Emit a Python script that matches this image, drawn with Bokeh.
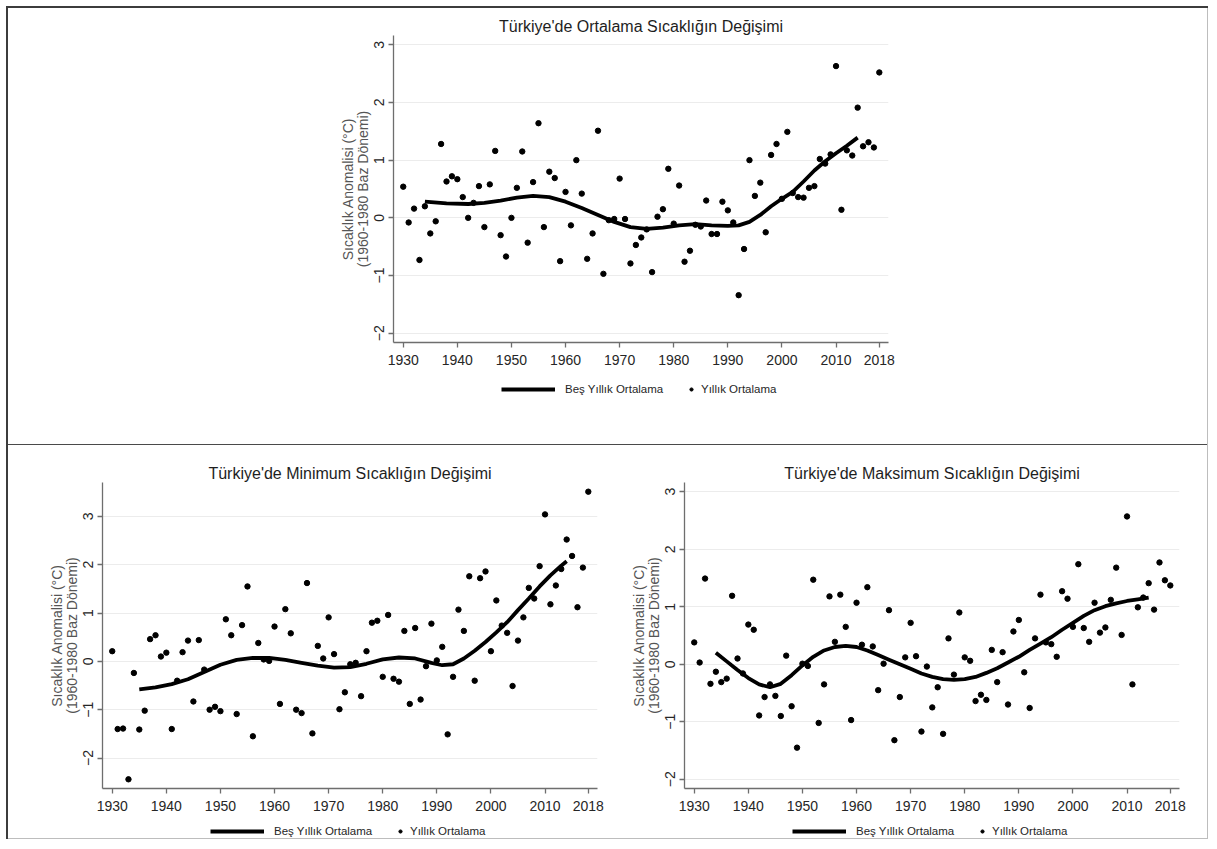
from bokeh.plotting import figure
from bokeh.models import Legend, LegendItem, FixedTicker, Range1d, Spacer
from bokeh.layouts import column, row
from bokeh.embed import file_html
from bokeh.resources import INLINE

FONT = "Liberation Sans"

years = list(range(1930, 2019))

ortalama = [0.54, -0.08, 0.16, -0.73, 0.20, -0.27, -0.06, 1.28, 0.63, 0.72,
            0.67, 0.36, 0.00, 0.26, 0.55, -0.16, 0.58, 1.16, -0.30, -0.67,
            0.00, 0.52, 1.15, -0.43, 0.62, 1.64, -0.16, 0.80, 0.69, -0.75,
            0.45, -0.13, 1.00, 0.42, -0.71, -0.27, 1.51, -0.97, -0.04, -0.02,
            0.68, -0.02, -0.79, -0.47, -0.34, -0.20, -0.94, 0.02, 0.15, 0.85,
            -0.10, 0.56, -0.76, -0.57, -0.12, -0.15, 0.30, -0.28, -0.28, 0.28,
            0.13, -0.08, -1.34, -0.54, 1.00, 0.38, 0.61, -0.25, 1.09, 1.28,
            0.33, 1.49, 0.43, 0.36, 0.35, 0.52, 0.55, 1.02, 0.94, 1.10,
            2.63, 0.14, 1.17, 1.08, 1.91, 1.24, 1.31, 1.22, 2.52]

minimum = [0.21, -1.40, -1.39, -2.44, -0.24, -1.41, -1.02, 0.46, 0.54, 0.10,
           0.18, -1.40, -0.40, 0.19, 0.43, -0.83, 0.44, -0.17, -1.00, -0.94,
           -1.03, 0.87, 0.54, -1.09, 0.75, 1.55, -1.55, 0.38, 0.04, 0.01,
           0.72, -0.88, 1.08, 0.58, -1.00, -1.07, 1.62, -1.49, 0.32, 0.06,
           0.91, 0.15, -0.99, -0.64, -0.06, -0.03, -0.72, 0.21, 0.80, 0.84,
           -0.32, 0.96, -0.36, -0.42, 0.63, -0.88, 0.69, -0.79, -0.10, 0.78,
           0.02, 0.30, -1.51, -0.32, 1.07, 0.63, 1.76, -0.40, 1.72, 1.86,
           0.21, 1.26, 0.74, 0.59, -0.51, 0.43, 0.91, 1.52, 1.30, 1.97,
           3.04, 1.18, 1.57, 1.91, 2.52, 2.18, 1.12, 1.94, 3.51]

maksimum = [0.38, 0.03, 1.49, -0.34, -0.13, -0.31, -0.25, 1.19, 0.10, -0.16,
            0.69, 0.60, -0.89, -0.57, -0.35, -0.55, -0.90, 0.15, -0.73, -1.45,
            0.01, -0.03, 1.47, -1.02, -0.35, 1.18, 0.39, 1.21, 0.65, -0.97,
            1.07, 0.34, 1.34, 0.31, -0.45, 0.01, 0.94, -1.32, -0.57, 0.12,
            0.72, 0.14, -1.17, -0.04, -0.75, -0.40, -1.21, 0.45, -0.18, 0.90,
            0.12, 0.06, -0.64, -0.53, -0.62, 0.25, -0.31, 0.21, -0.70, 0.57,
            0.77, -0.14, -0.76, 0.45, 1.21, 0.38, 0.35, 0.13, 1.27, 1.14,
            0.65, 1.74, 0.63, 0.39, 1.07, 0.55, 0.64, 1.12, 1.68, 0.51,
            2.57, -0.35, 0.99, 1.16, 1.41, 0.95, 1.77, 1.46, 1.37]

ort_smooth_years = [1934, 1938, 1942, 1945, 1948, 1951, 1954, 1957, 1960, 1963,
                    1966, 1969, 1972, 1975, 1978, 1981, 1984, 1987, 1990, 1992,
                    1994, 1996, 1998, 2000, 2002, 2004, 2006, 2008, 2010, 2012, 2014]
ort_smooth = [0.28, 0.25, 0.24, 0.26, 0.30, 0.35, 0.38, 0.36, 0.28, 0.17,
              0.05, -0.07, -0.16, -0.19, -0.17, -0.13, -0.11, -0.13, -0.14, -0.13,
              -0.07, 0.05, 0.20, 0.33, 0.45, 0.63, 0.82, 0.98, 1.12, 1.25, 1.39]

min_smooth_years = [1935, 1938, 1941, 1944, 1947, 1950, 1953, 1956, 1959, 1962,
                    1965, 1968, 1971, 1974, 1977, 1980, 1983, 1986, 1989, 1991,
                    1993, 1995, 1997, 1999, 2001, 2003, 2005, 2007, 2009, 2011,
                    2013, 2014]
min_smooth = [-0.58, -0.54, -0.47, -0.37, -0.22, -0.07, 0.03, 0.07, 0.07, 0.03,
              -0.03, -0.09, -0.13, -0.12, -0.05, 0.04, 0.08, 0.06, -0.03, -0.08,
              -0.06, 0.06, 0.22, 0.40, 0.60, 0.81, 1.06, 1.30, 1.55, 1.78,
              1.98, 2.07]

max_smooth_years = [1934, 1936, 1938, 1940, 1942, 1944, 1946, 1948, 1950, 1952,
                    1954, 1956, 1958, 1960, 1962, 1964, 1966, 1968, 1970, 1972,
                    1974, 1976, 1978, 1980, 1982, 1984, 1986, 1988, 1990, 1992,
                    1994, 1996, 1998, 2000, 2002, 2004, 2006, 2008, 2010, 2012, 2014]
max_smooth = [0.20, 0.05, -0.10, -0.24, -0.35, -0.40, -0.34, -0.19, -0.02, 0.13,
              0.24, 0.30, 0.32, 0.30, 0.24, 0.16, 0.08, 0.00, -0.08, -0.16,
              -0.22, -0.26, -0.27, -0.26, -0.22, -0.15, -0.07, 0.03, 0.13, 0.25,
              0.36, 0.47, 0.60, 0.72, 0.84, 0.94, 1.01, 1.06, 1.10, 1.13, 1.16]

x_ticks = [1930, 1940, 1950, 1960, 1970, 1980, 1990, 2000, 2010, 2018]
y_ticks = [-2, -1, 0, 1, 2, 3]

titles = ["Türkiye'de Ortalama Sıcaklığın Değişimi",
          "Türkiye'de Minimum Sıcaklığın Değişimi",
          "Türkiye'de Maksimum Sıcaklığın Değişimi"]
y_title = "Sıcaklık Anomalisi (°C)\n(1960-1980 Baz Dönemi)"
legend_labels = ["Beş Yıllık Ortalama", "Yıllık Ortalama"]

LINE_W = 3.8
DOT = 5.4


def make_panel(title, vals, sy, sv, width, height, mbl, mbr, mbt, mbb, yr):
    p = figure(width=width, height=height, output_backend="svg",
               toolbar_location=None, min_border_left=mbl, min_border_right=mbr,
               min_border_top=mbt, min_border_bottom=mbb,
               x_range=Range1d(1928.2, 2019.7), y_range=Range1d(*yr))
    p.outline_line_color = None
    p.background_fill_color = "white"
    p.border_fill_color = "white"
    p.xgrid.visible = False
    p.ygrid.grid_line_color = "#ececec"
    p.ygrid.ticker = FixedTicker(ticks=y_ticks)

    p.title.text = title
    p.title.align = "center"
    p.title.text_font = FONT
    p.title.text_font_size = "16px"
    p.title.text_font_style = "normal"
    p.title.text_color = "#1e1e1e"
    p.title.standoff = 2

    for ax in (p.xaxis[0], p.yaxis[0]):
        ax.axis_line_color = "#6e6e6e"
        ax.axis_line_width = 1.3
        ax.major_tick_line_color = "#6e6e6e"
        ax.major_tick_line_width = 1.3
        ax.major_tick_in = 0
        ax.major_tick_out = 5
        ax.minor_tick_line_color = None
        ax.major_label_text_font = FONT
        ax.major_label_text_font_size = "14px"
        ax.major_label_text_color = "#262626"

    p.xaxis.ticker = FixedTicker(ticks=x_ticks)
    p.xaxis.major_label_standoff = 7
    p.yaxis.ticker = FixedTicker(ticks=y_ticks)
    p.yaxis.major_label_orientation = "vertical"
    p.yaxis.major_label_standoff = 4
    p.yaxis.axis_label = y_title
    p.yaxis.axis_label_text_font = FONT
    p.yaxis.axis_label_text_font_size = "14px"
    p.yaxis.axis_label_text_font_style = "normal"
    p.yaxis.axis_label_text_color = "#555555"
    p.yaxis.axis_label_text_line_height = 0.9
    p.yaxis.axis_label_standoff = 1

    p.line(sy, sv, line_color="black", line_width=LINE_W)
    p.scatter(years, vals, size=DOT, fill_color="black", line_color="black")
    return p


def make_legend(width, height, vals, sy, sv, vy):
    # legend strip; its frame is aligned with the panel's frame by the layout.
    # The renderers hold the same series but fall outside this strip's ranges,
    # so only their legend swatches are visible.
    q = figure(width=width, height=height, output_backend="svg",
               toolbar_location=None, min_border=0,
               x_axis_type=None, y_axis_type=None,
               x_range=Range1d(0, 1), y_range=Range1d(0, 1))
    q.outline_line_color = None
    q.grid.visible = False
    q.border_fill_color = "white"
    ln = q.line(sy, sv, line_color="black", line_width=LINE_W)
    sc = q.scatter(years, vals, size=DOT, fill_color="black", line_color="black")
    common = dict(orientation="horizontal", padding=0, margin=0, spacing=0,
                  border_line_color=None, background_fill_alpha=0,
                  label_text_font=FONT, label_text_font_size="11.5px",
                  label_text_color="#262626", glyph_height=14, label_height=14)
    q.add_layout(Legend(items=[LegendItem(label=legend_labels[0], renderers=[ln])],
                        location=(108, vy), glyph_width=54, label_standoff=10,
                        **common))
    q.add_layout(Legend(items=[LegendItem(label=legend_labels[1], renderers=[sc])],
                        location=(294, vy), glyph_width=8, label_standoff=6,
                        **common))
    return q


top = make_panel(titles[0], ortalama, ort_smooth_years, ort_smooth,
                 1199, 364, 385, 319, 27, 30, (-2.16, 3.16))
top_leg = make_legend(1199, 72, ortalama, ort_smooth_years, ort_smooth, 48.5)
bl = make_panel(titles[1], minimum, min_smooth_years, min_smooth,
                604, 373, 94, 15, 37, 30, (-2.63, 3.70))
bl_leg = make_legend(604, 20, minimum, min_smooth_years, min_smooth, 0.5)
br = make_panel(titles[2], maksimum, max_smooth_years, max_smooth,
                595, 373, 72, 28, 37, 30, (-2.16, 3.16))
br_leg = make_legend(595, 20, maksimum, max_smooth_years, max_smooth, 0.5)


def bar(w, h, color):
    return Spacer(width=w, height=h, margin=0, styles={"background-color": color})


def gap(w, h):
    return Spacer(width=w, height=h, margin=0)


inner = column(top, top_leg, bar(1199, 1, "#4a4a4a"),
               row(column(bl, bl_leg, spacing=0), column(br, br_leg, spacing=0), spacing=0),
               bar(1199, 1, "#bdbdbd"), spacing=0)
framed = column(bar(1202, 2, "#3c3c3c"),
                row(bar(2, 831, "#3c3c3c"), inner, bar(1, 831, "#bdbdbd"), spacing=0),
                spacing=0)
layout = column(gap(1208, 6), row(gap(6, 833), framed, spacing=0), spacing=0)

open("out.html", "w").write(file_html(layout, INLINE))
